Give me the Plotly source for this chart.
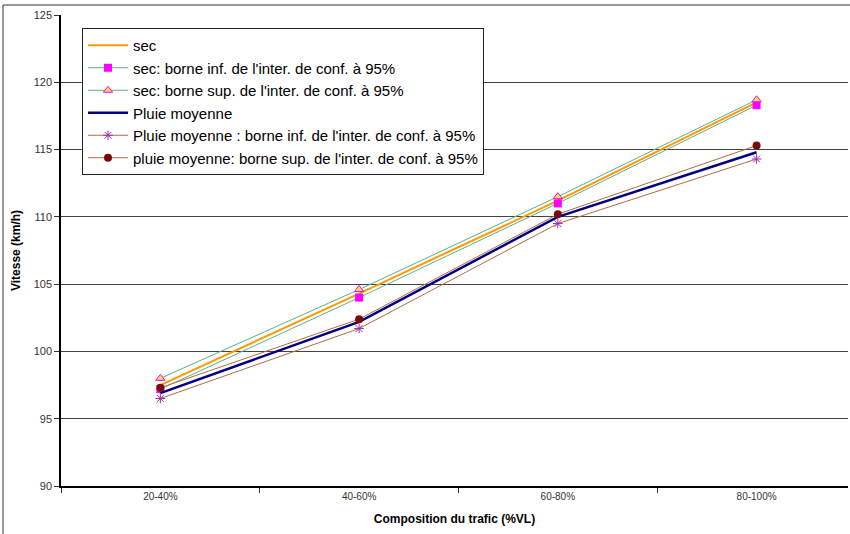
import plotly.graph_objects as go

categories = ["20-40%", "40-60%", "60-80%", "80-100%"]
sec = [97.5, 104.3, 111.2, 118.5]
sec_inf = [97.2, 104.0, 111.0, 118.3]
sec_sup = [98.0, 104.6, 111.5, 118.7]
pluie = [96.9, 102.2, 110.0, 114.8]
pluie_inf = [96.5, 101.7, 109.5, 114.3]
pluie_sup = [97.3, 102.4, 110.2, 115.3]
y_ticks = [90, 95, 100, 105, 110, 115, 120, 125]

fig = go.Figure()
fig.add_trace(go.Scatter(x=categories, y=sec, name="sec", mode="lines",
                         line=dict(color="#FF9900", width=2)))
fig.add_trace(go.Scatter(x=categories, y=sec_inf, name="sec: borne inf. de l'inter. de conf. à 95%",
                         mode="lines+markers", line=dict(color="#5FAE86", width=1),
                         marker=dict(symbol="square", color="#FF00FF", size=8)))
fig.add_trace(go.Scatter(x=categories, y=sec_sup, name="sec: borne sup. de l'inter. de conf. à 95%",
                         mode="lines+markers", line=dict(color="#5FAE86", width=1),
                         marker=dict(symbol="triangle-up", color="#FFE34D", size=8,
                                     line=dict(color="#FF00FF", width=1))))
fig.add_trace(go.Scatter(x=categories, y=pluie, name="Pluie moyenne", mode="lines",
                         line=dict(color="#000080", width=2.5)))
fig.add_trace(go.Scatter(x=categories, y=pluie_inf, name="Pluie moyenne : borne inf. de l'inter. de conf. à 95%",
                         mode="lines+markers", line=dict(color="#B56A45", width=1),
                         marker=dict(symbol="asterisk-open", color="#9A2FA8", size=8,
                                     line=dict(color="#9A2FA8", width=1))))
fig.add_trace(go.Scatter(x=categories, y=pluie_sup, name="pluie moyenne: borne sup. de l'inter. de conf. à 95%",
                         mode="lines+markers", line=dict(color="#B56A45", width=1),
                         marker=dict(symbol="circle", color="#7A0A0A", size=8)))

L, T, PW, PH = 61, 15, 787, 471
fig.update_layout(
    width=850, height=534,
    margin=dict(l=L, r=2, t=T, b=48),
    paper_bgcolor="white", plot_bgcolor="white",
    font=dict(family="Arial, Liberation Sans", color="#222"),
    showlegend=True,
    legend=dict(x=(82 - L) / PW, y=(T + PH - 28) / PH, xanchor="left", yanchor="top",
                bordercolor="#222", borderwidth=1, bgcolor="white",
                font=dict(size=15, color="#000"), tracegroupgap=0, itemwidth=40),
    xaxis=dict(type="category", range=[-0.5, 3.46], showgrid=False, automargin=False,
               showline=True, linecolor="#000", linewidth=1.5,
               ticks="outside", tickson="boundaries", ticklen=5, tickcolor="#333",
               tickfont=dict(size=10, color="#333"),
               title=dict(text="<b>Composition du trafic (%VL)</b>", font=dict(size=12, color="#000"), standoff=14)),
    yaxis=dict(range=[90, 125], tickvals=y_ticks, showgrid=True, gridcolor="#444", gridwidth=1,
               automargin=False,
               showline=True, linecolor="#000", linewidth=1.5, zeroline=False,
               ticks="outside", ticklen=5, tickcolor="#333",
               tickfont=dict(size=11, color="#333"),
               title=dict(text="<b>Vitesse (km/h)</b>", font=dict(size=12, color="#000"), standoff=10)),
    shapes=[dict(type="rect", xref="paper", yref="paper",
                 x0=(3 - L) / PW, x1=(852 - L) / PW, y0=(T + PH - 537) / PH, y1=(T + PH - 5) / PH,
                 line=dict(color="#333", width=1), fillcolor="rgba(0,0,0,0)", layer="below")],
)

fig.write_html("out.html", config={"displayModeBar": False},
               post_script="document.body.style.margin='0';document.body.style.overflow='hidden';")
